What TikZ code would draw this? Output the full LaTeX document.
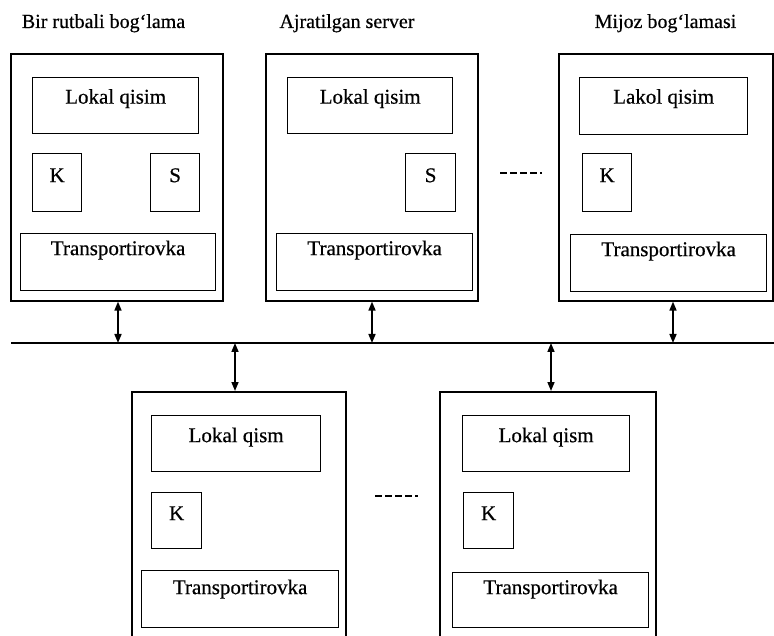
\documentclass[tikz,border=0pt]{standalone}
\usepackage{fontspec}
\setmainfont[FakeBold=0.5]{Liberation Serif}
\usetikzlibrary{arrows.meta}
\begin{document}
\begin{tikzpicture}[x=1pt,y=-1pt,
  outer/.style={draw, line width=1.6pt, inner sep=0pt, anchor=north west, minimum width=#1, minimum height=247pt},
  cell/.style n args={3}{draw, line width=1.3pt, inner sep=0pt, anchor=north west,
    minimum width=#1, text height=#2, text depth=#3, font=\fontsize{21}{24}\selectfont},
  ttl/.style={anchor=base, inner sep=0pt, font=\fontsize{20}{24}\selectfont},
  arr/.style={line width=1.6pt, {Triangle[length=9pt,width=7pt]}-{Triangle[length=9pt,width=7pt]}},
  bus/.style={line width=1.6pt},
  dashline/.style={line width=1.3pt, dash pattern=on 7pt off 3pt}]
\clip (0,0) rectangle (774,636);
\fill[white] (0,0) rectangle (774,636);
% titles
\node[ttl] (t1) at (103.5,28) {Bir rutbali bog‘lama};
\node[ttl] (t2) at (347,28) {Ajratilgan server};
\node[ttl] (t3) at (665.5,28) {Mijoz bog‘lamasi};
% top boxes
\node[outer=212pt] (box1) at (10,53) {};
\node[cell={166pt}{26pt}{30pt}] (l1) at (32,77) {Lokal qisim};
\node[cell={49pt}{28.5pt}{29.5pt}] (k1) at (32,153) {K};
\node[cell={49pt}{28.5pt}{29.5pt}] (s1) at (150,153) {S};
\node[cell={195pt}{21.5pt}{35.5pt}] (tr1) at (20,233) {Transportirovka};

\node[outer=212pt] (box2) at (265,53) {};
\node[cell={165pt}{26pt}{30pt}] (l2) at (287,77) {Lokal qisim};
\node[cell={50pt}{28.5pt}{29.5pt}] (s2) at (405,153) {S};
\node[cell={196pt}{21.5pt}{35.5pt}] (tr2) at (276,233) {Transportirovka};

\node[outer=214pt] (box3) at (558,53) {};
\node[cell={168pt}{26pt}{31pt}] (l3) at (579,77) {Lakol qisim};
\node[cell={49pt}{28.5pt}{29.5pt}] (k3) at (582,153) {K};
\node[cell={196pt}{21.5pt}{35.5pt}] (tr3) at (570,234) {Transportirovka};

% bottom boxes
\node[outer=214pt] (box4) at (131,391) {};
\node[cell={169pt}{26.5pt}{29.5pt}] (l4) at (151,415) {Lokal qism};
\node[cell={50pt}{27.5pt}{28.5pt}] (k4) at (151,492) {K};
\node[cell={197pt}{23.5pt}{33.5pt}] (tr4) at (141,570) {Transportirovka};

\node[outer=216pt] (box5) at (439,391) {};
\node[cell={167pt}{26.5pt}{29.5pt}] (l5) at (462,415) {Lokal qism};
\node[cell={50pt}{27.5pt}{28.5pt}] (k5) at (463,492) {K};
\node[cell={196pt}{21.5pt}{33.5pt}] (tr5) at (452,572) {Transportirovka};

% bus
\coordinate (busL) at (11,343);
\coordinate (busR) at (774,343);
\draw[bus] (busL) -- (busR);
\coordinate (a1) at (118,343);
\coordinate (a2) at (372,343);
\coordinate (a3) at (673,343);
\coordinate (a4) at (235,343);
\coordinate (a5) at (551,343);
\draw[arr] (box1.south -| a1) -- (a1);
\draw[arr] (box2.south -| a2) -- (a2);
\draw[arr] (box3.south -| a3) -- (a3);
\draw[arr] (a4) -- (box4.north -| a4);
\draw[arr] (a5) -- (box5.north -| a5);

% ellipsis dashes
\coordinate (d1a) at (500,173);
\coordinate (d1b) at (542,173);
\draw[dashline] (d1a) -- (d1b);
\coordinate (d2a) at (375,496);
\coordinate (d2b) at (418,496);
\draw[dashline] (d2a) -- (d2b);
\end{tikzpicture}
\end{document}
